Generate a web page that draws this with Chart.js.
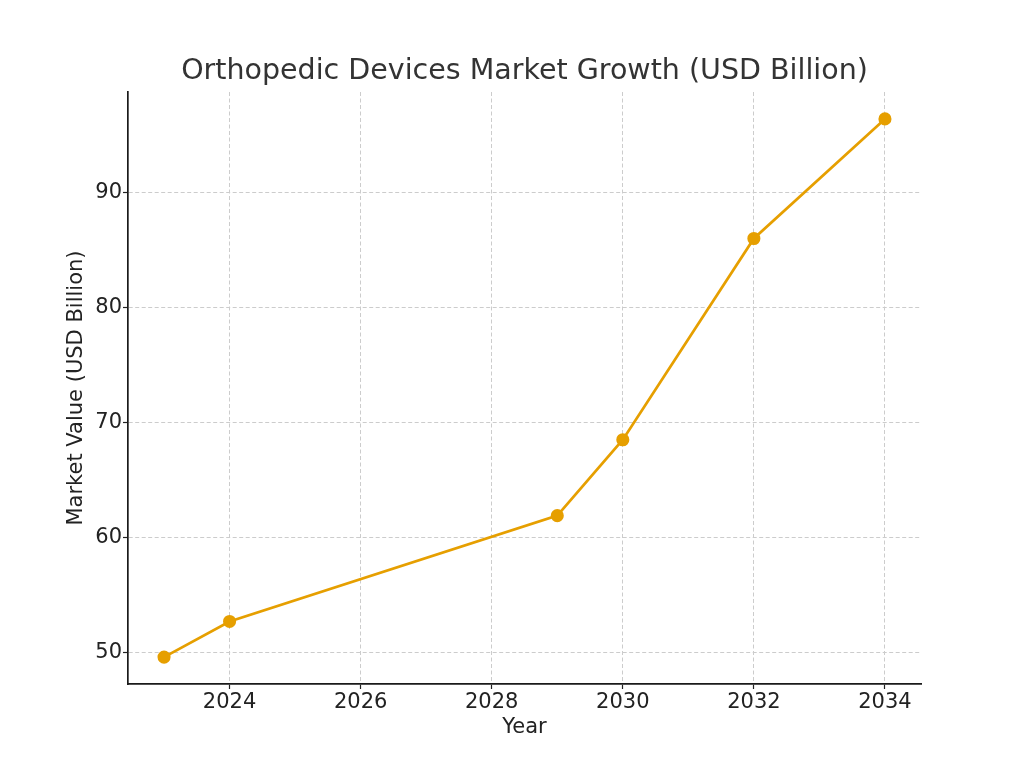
<!DOCTYPE html>
<html>
<head>
<meta charset="utf-8">
<script src="https://cdn.jsdelivr.net/npm/chart.js@4"></script>
<style>
  html, body { margin: 0; padding: 0; background: #fff; }
  #wrap { width: 1024px; height: 768px; }
</style>
</head>
<body>
<div id="wrap"><canvas id="myChart" width="1024" height="768"></canvas></div>
<script>
// данные графика
var years = [2023, 2024, 2029, 2030, 2032, 2034];
var marketValue = [49.6, 52.7, 61.9, 68.5, 86.0, 96.4];
var xTicks = [2024, 2026, 2028, 2030, 2032, 2034];
var yTicks = [50, 60, 70, 80, 90];
var chartTitle = 'Orthopedic Devices Market Growth (USD Billion)';

var points = [];
years.forEach((y, i) => {
    points.push({ x: y, y: marketValue[i] });
});

var font = "'DejaVu Sans', sans-serif";
var ctx = document.getElementById('myChart').getContext('2d');

// заголовок по центру области графика (как в matplotlib)
var titlePlugin = {
    id: 'axesTitle',
    afterDraw: function(chart) {
        var a = chart.chartArea;
        var c = chart.ctx;
        c.save();
        c.font = '28.5px ' + font;
        c.fillStyle = '#333333';
        c.textAlign = 'center';
        c.textBaseline = 'middle';
        c.fillText(chartTitle, (a.left + a.right) / 2, 72);
        c.restore();
    }
};

new Chart(ctx, {
    type: 'line',
    data: {
        datasets: [{
            label: 'Market Value',
            data: points,
            borderColor: '#E69F00',
            backgroundColor: '#E69F00',
            borderWidth: 2.7,
            pointRadius: 5.2,
            pointHoverRadius: 5.2,
            tension: 0
        }]
    },
    plugins: [titlePlugin],
    options: {
        responsive: false,
        animation: false,
        layout: { padding: { left: 0, right: 103, top: 92, bottom: 0 } },
        plugins: {
            legend: { display: false },
            tooltip: { enabled: false },
            title: { display: false }
        },
        scales: {
            x: {
                type: 'linear',
                min: 2022.45,
                max: 2034.55,
                afterBuildTicks: function(scale) {
                    scale.ticks = xTicks.map(v => ({ value: v }));
                },
                afterFit: function(scale) { scale.height = 84; },
                ticks: {
                    color: '#222222',
                    font: { family: font, size: 21 },
                    padding: 1,
                    maxRotation: 0,
                    callback: v => String(v)
                },
                grid: {
                    color: '#cccccc',
                    lineWidth: 1,
                    tickLength: 5,
                    tickColor: '#222222',
                    tickWidth: 1.2
                },
                border: { display: true, color: '#1a1a1a', width: 1.7, dash: [4, 2.5] },
                title: {
                    display: true,
                    text: 'Year',
                    color: '#222222',
                    font: { family: font, size: 21 },
                    padding: { top: 0, bottom: 28 }
                }
            },
            y: {
                min: 47.26,
                max: 98.74,
                afterBuildTicks: function(scale) {
                    scale.ticks = yTicks.map(v => ({ value: v }));
                },
                afterFit: function(scale) { scale.width = 128; },
                ticks: {
                    color: '#222222',
                    font: { family: font, size: 21 },
                    padding: 1
                },
                grid: {
                    color: '#cccccc',
                    lineWidth: 1,
                    tickLength: 5,
                    tickColor: '#222222',
                    tickWidth: 1.2
                },
                border: { display: true, color: '#1a1a1a', width: 1.7, dash: [4, 2.5] },
                title: {
                    display: true,
                    text: 'Market Value (USD Billion)',
                    color: '#222222',
                    font: { family: font, size: 21 },
                    padding: { top: 64, bottom: 0 }
                }
            }
        }
    }
});
</script>
</body>
</html>
